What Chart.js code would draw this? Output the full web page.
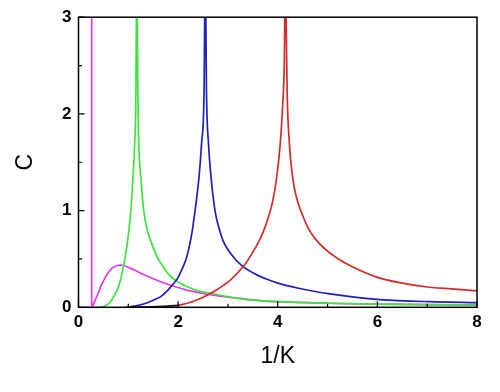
<!DOCTYPE html>
<html>
<head>
<meta charset="utf-8">
<script src="https://cdn.jsdelivr.net/npm/chart.js@4.4.0/dist/chart.umd.min.js"></script>
<style>
  html, body { margin: 0; padding: 0; background: #fff; }
</style>
</head>
<body>
<canvas id="chart" width="500" height="392"></canvas>
<script>
// Ticks
const xMajor = [0, 2, 4, 6, 8];
const xMinor = [1, 3, 5, 7];
const yMajor = [0, 1, 2, 3];
const yMinor = [0.5, 1.5, 2.5];

// Magenta: vertical line + bump
const magLineX = [0, 0.265, 0.265];
const magLineY = [0, 0, 3.6];
const magX = [0.265, 0.3, 0.34, 0.39, 0.45, 0.5, 0.56, 0.62, 0.69, 0.76, 0.83, 0.92, 1.06, 1.2, 1.43, 1.65, 1.93, 2.2, 2.64, 3.0, 3.64, 4.0, 5.0, 6.0, 7.0, 8.0];
const magY = [0, 0.03, 0.08, 0.14, 0.22, 0.27, 0.33, 0.375, 0.41, 0.43, 0.437, 0.43, 0.40, 0.365, 0.31, 0.265, 0.215, 0.175, 0.13, 0.105, 0.07, 0.058, 0.042, 0.033, 0.027, 0.024];

// Green
const grnX = [0.3, 0.46, 0.55, 0.65, 0.73, 0.8, 0.86, 0.92, 0.98, 1.05, 1.095, 1.128, 1.15, 1.172, 1.19, 1.21, 1.25, 1.31, 1.37, 1.44, 1.58, 1.7, 1.83, 2.0, 2.2, 2.4, 2.7, 3.0, 3.38, 4.0, 5.0, 6.0, 7.0, 8.0];
const grnY = [0, 0.003, 0.02, 0.06, 0.13, 0.21, 0.32, 0.47, 0.66, 1.0, 1.35, 1.69, 2.1, 3.5, 2.3, 1.69, 1.35, 1.0, 0.82, 0.70, 0.52, 0.42, 0.33, 0.26, 0.21, 0.17, 0.14, 0.11, 0.08, 0.058, 0.042, 0.033, 0.027, 0.024];

// Blue
const bluX = [0.95, 1.0, 1.2, 1.4, 1.53, 1.65, 1.8, 1.9, 2.0, 2.1, 2.16, 2.22, 2.28, 2.34, 2.42, 2.47, 2.52, 2.545, 2.57, 2.61, 2.66, 2.74, 2.82, 2.91, 3.05, 3.28, 3.64, 4.0, 4.35, 4.75, 5.05, 5.5, 6.05, 7.05, 8.0];
const bluY = [0, 0.003, 0.02, 0.05, 0.08, 0.11, 0.18, 0.24, 0.31, 0.42, 0.50, 0.62, 0.78, 1.0, 1.35, 1.69, 2.21, 3.5, 2.21, 1.69, 1.35, 1.0, 0.82, 0.68, 0.56, 0.43, 0.32, 0.25, 0.205, 0.163, 0.138, 0.108, 0.08, 0.058, 0.048];

// Black (low start)
const blkX = [1.0, 1.3, 1.6, 1.8, 2.0];
const blkY = [0, 0.003, 0.008, 0.013, 0.02];

// Red
const redX = [2.0, 2.2, 2.4, 2.6, 2.8, 3.0, 3.2, 3.35, 3.5, 3.6, 3.7, 3.8, 3.9, 3.98, 4.05, 4.1, 4.13, 4.155, 4.17, 4.19, 4.23, 4.26, 4.29, 4.33, 4.38, 4.44, 4.5, 4.6, 4.75, 5.0, 5.25, 5.5, 6.0, 6.5, 7.0, 7.5, 8.0];
const redY = [0.02, 0.045, 0.08, 0.13, 0.19, 0.26, 0.36, 0.45, 0.57, 0.66, 0.77, 0.91, 1.1, 1.35, 1.69, 2.1, 2.5, 3.5, 2.9, 2.2, 1.72, 1.52, 1.38, 1.24, 1.13, 1.03, 0.95, 0.83, 0.71, 0.58, 0.49, 0.42, 0.31, 0.25, 0.21, 0.19, 0.17];

const pts = (xs, ys) => xs.map((x, i) => ({ x, y: ys[i] }));

function series(xs, ys, color, straight) {
  return {
    data: pts(xs, ys),
    borderColor: color,
    borderWidth: 1.7,
    pointRadius: 0,
    showLine: true,
    fill: false,
    tension: 0,
    cubicInterpolationMode: straight ? "default" : "monotone",
  };
}

// Inward tick marks and a closed frame
const frameTicks = {
  id: "frameTicks",
  afterDraw(chart) {
    const { ctx, chartArea: a, scales } = chart;
    ctx.save();
    ctx.strokeStyle = "#000";
    ctx.lineWidth = 1.2;
    ctx.beginPath();
    const xt = (v, len) => {
      const px = scales.x.getPixelForValue(v);
      ctx.moveTo(px, a.bottom);
      ctx.lineTo(px, a.bottom - len);
    };
    const yt = (v, len) => {
      const py = scales.y.getPixelForValue(v);
      ctx.moveTo(a.left, py);
      ctx.lineTo(a.left + len, py);
    };
    xMajor.forEach((v) => xt(v, 6));
    xMinor.forEach((v) => xt(v, 3.5));
    yMajor.forEach((v) => yt(v, 6));
    yMinor.forEach((v) => yt(v, 3.5));
    ctx.stroke();
    ctx.lineWidth = 1.5;
    ctx.strokeRect(a.left, a.top, a.right - a.left, a.bottom - a.top);
    ctx.restore();
  },
};

const tickFont = { family: "'Liberation Sans', Arial, sans-serif", size: 17, weight: "bold" };
const titleFont = { family: "'Liberation Sans', Arial, sans-serif", size: 23 };

new Chart(document.getElementById("chart"), {
  type: "scatter",
  data: {
    datasets: [
      series(blkX, blkY, "#111111"),
      series(redX, redY, "#d42a2a"),
      series(bluX, bluY, "#1f1fbf"),
      series(grnX, grnY, "#3ee43e"),
      series(magX, magY, "#e03ce0"),
      series(magLineX, magLineY, "#e03ce0", true),
    ],
  },
  options: {
    responsive: false,
    animation: false,
    layout: { padding: { left: 12, top: 17, right: 23, bottom: 22 } },
    plugins: { legend: { display: false }, tooltip: { enabled: false } },
    scales: {
      x: {
        type: "linear",
        min: 0,
        max: 8,
        afterFit: (s) => { s.height = 62.7; },
        afterBuildTicks: (s) => { s.ticks = xMajor.map((v) => ({ value: v })); },
        grid: { display: false, drawTicks: false },
        border: { display: false },
        ticks: { font: tickFont, color: "#000", padding: 5, maxRotation: 0 },
        title: { display: true, text: "1/K", font: titleFont, color: "#000", padding: 0 },
      },
      y: {
        type: "linear",
        min: 0,
        max: 3,
        afterFit: (s) => { s.width = 66.5; },
        afterBuildTicks: (s) => { s.ticks = yMajor.map((v) => ({ value: v })); },
        grid: { display: false, drawTicks: false },
        border: { display: false },
        ticks: { font: tickFont, color: "#000", padding: 7 },
        title: { display: true, text: "C", font: titleFont, color: "#000", padding: 0 },
      },
    },
  },
  plugins: [frameTicks],
});
</script>
</body>
</html>
